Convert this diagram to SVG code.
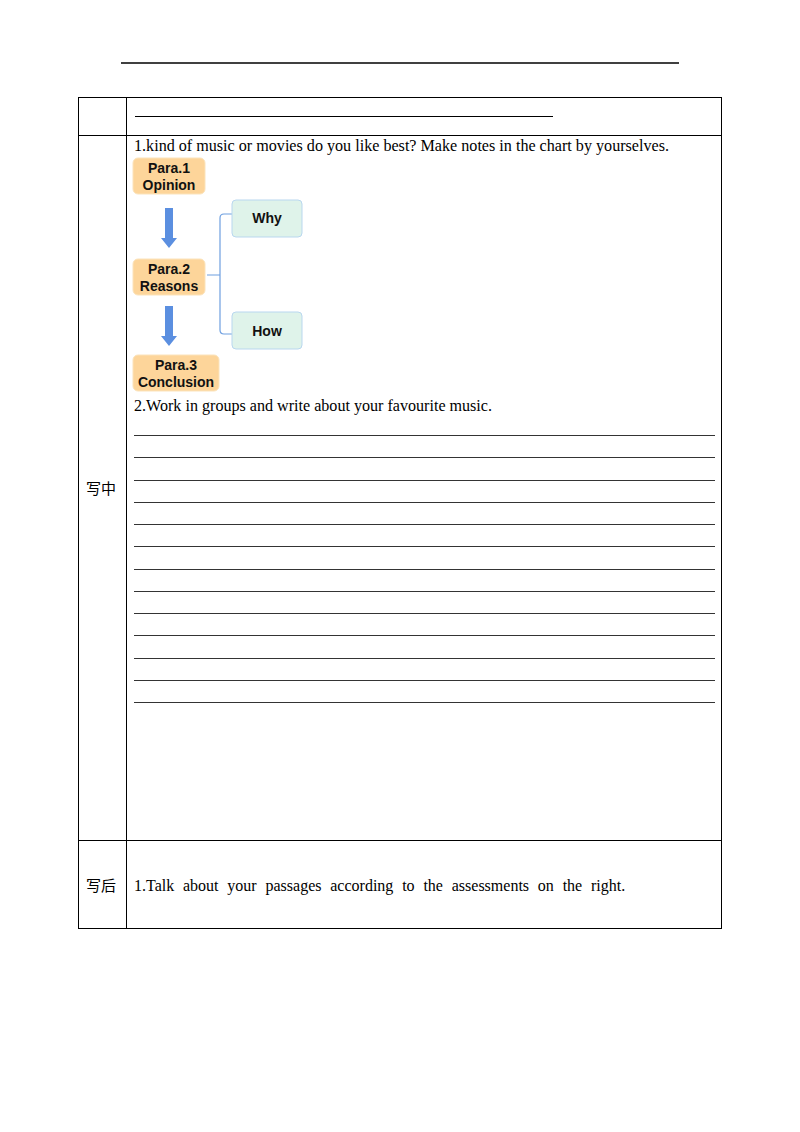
<svg xmlns="http://www.w3.org/2000/svg" width="800" height="1132" viewBox="0 0 800 1132">
<style>
.t{font-family:"Liberation Serif",serif;font-size:16px;fill:#000}
.c{font-family:"Noto Sans CJK SC",sans-serif;font-size:15px;fill:#000}
.b{font-family:"Liberation Sans",sans-serif;font-weight:bold;font-size:14px;fill:#111;text-anchor:middle}
.o{fill:#fdd59a;stroke:#fbe3bb}
.g{fill:#dff3ea;stroke:#b9d7ef}
</style>
<rect width="800" height="1132" fill="#fff"/>
<line x1="121" y1="63" x2="679" y2="63" stroke="#000" stroke-width="1.5"/>
<g id="table" fill="none" stroke="#000">
<rect x="78.5" y="97.5" width="643" height="831"/>
<line x1="126.5" y1="97" x2="126.5" y2="929"/>
<line x1="78" y1="135.5" x2="722" y2="135.5"/>
<line x1="78" y1="840.5" x2="722" y2="840.5"/>
<line x1="135" y1="116.5" x2="553" y2="116.5"/>
</g>
<g id="lines" stroke="#000" stroke-width="0.8">
<line x1="134" y1="435.5" x2="715" y2="435.5"/><line x1="134" y1="457.5" x2="715" y2="457.5"/>
<line x1="134" y1="480.5" x2="715" y2="480.5"/><line x1="134" y1="502.5" x2="715" y2="502.5"/>
<line x1="134" y1="524.5" x2="715" y2="524.5"/><line x1="134" y1="546.5" x2="715" y2="546.5"/>
<line x1="134" y1="569.5" x2="715" y2="569.5"/><line x1="134" y1="591.5" x2="715" y2="591.5"/>
<line x1="134" y1="613.5" x2="715" y2="613.5"/><line x1="134" y1="635.5" x2="715" y2="635.5"/>
<line x1="134" y1="658.5" x2="715" y2="658.5"/><line x1="134" y1="680.5" x2="715" y2="680.5"/>
<line x1="134" y1="702.5" x2="715" y2="702.5"/>
</g>
<text class="t" x="134" y="151" textLength="535" lengthAdjust="spacingAndGlyphs">1.kind of music or movies do you like best? Make notes in the chart by yourselves.</text>
<text class="t" x="134" y="411" textLength="358" lengthAdjust="spacingAndGlyphs">2.Work in groups and write about your favourite music.</text>
<text class="c" x="86" y="494">写中</text>
<text class="c" x="86" y="891">写后</text>
<text class="t" x="134" y="891" word-spacing="4.8">1.Talk about your passages according to the assessments on the right.</text>
<g id="connectors">
<path d="M165 208h8v30h4l-8 10l-8-10h4z" fill="#5b8fe0"/>
<path d="M165 306h8v30h4l-8 10l-8-10h4z" fill="#5b8fe0"/>
<path d="M207 275H220M232 214H224Q220 214 220 218V330Q220 334 224 334H232" fill="none" stroke="#6e9fe0" stroke-width="1.2"/>
</g>
<g id="p1"><rect class="o" x="133" y="158" width="72" height="36" rx="5"/><text class="b" x="169" y="173">Para.1</text><text class="b" x="169" y="190">Opinion</text></g>
<g id="p2"><rect class="o" x="133" y="259" width="72" height="36" rx="5"/><text class="b" x="169" y="274">Para.2</text><text class="b" x="169" y="291">Reasons</text></g>
<g id="p3"><rect class="o" x="133" y="355" width="86" height="36" rx="5"/><text class="b" x="176" y="370">Para.3</text><text class="b" x="176" y="387">Conclusion</text></g>
<g id="why"><rect class="g" x="232" y="200" width="70" height="37" rx="4"/><text class="b" x="267" y="223">Why</text></g>
<g id="how"><rect class="g" x="232" y="312" width="70" height="37" rx="4"/><text class="b" x="267" y="336">How</text></g>
</svg>
